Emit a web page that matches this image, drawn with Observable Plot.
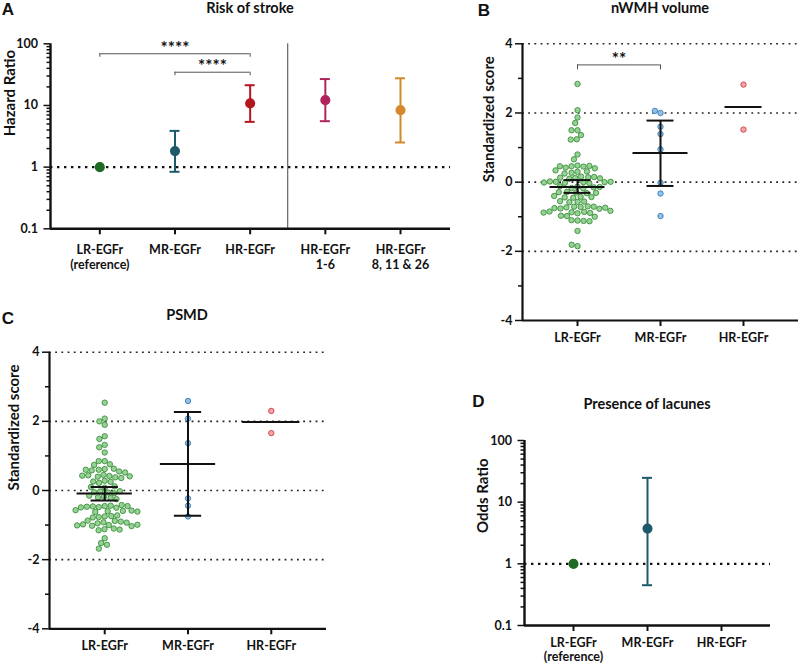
<!DOCTYPE html>
<html><head><meta charset="utf-8">
<script src="https://cdn.jsdelivr.net/npm/d3@7"></script>
<script src="https://cdn.jsdelivr.net/npm/@observablehq/plot@0.6"></script>
<style>
body{margin:0;background:#fff;}
#fig{position:relative;width:800px;height:666px;overflow:hidden;background:#fff;}
.lbl{position:absolute;transform:translate(-50%,-50%);white-space:nowrap;font-weight:bold;color:#111;line-height:1.2;}
.letter{font-family:"Liberation Sans",Arial,sans-serif;font-size:17px;}
.title{font-family:Lato,"Open Sans",sans-serif;font-size:14.5px;}
</style></head><body><div id="fig"></div>
<script>
// ---------------- DATA ----------------
// Panel A – Risk of stroke (hazard ratios, 95% CI)
const strokeCats = ["LR-EGFr\n(reference)", "MR-EGFr", "HR-EGFr", "HR-EGFr\n1-6", "HR-EGFr\n8, 11 & 26"];
const strokeHR = [1, 1.82, 10.8, 12.2, 8.4];
const strokeLo = [null, 0.84, 5.42, 5.56, 2.51];
const strokeHi = [null, 3.87, 21.3, 26.8, 27.6];
const strokeColors = ["#1d6b22", "#1d5a6c", "#b3161c", "#b0245c", "#d3882c"];
const strokeSigFrom = [0, 1];
const strokeSigTo = [2, 2];
const strokeSigY = [68.9, 34.6];
const strokeSigText = ["****", "****"];

// Panel B – nWMH volume (standardized scores)
const groups = ["LR-EGFr", "MR-EGFr", "HR-EGFr"];
const nwmhLR = [2.84, 2.08, 1.87, 1.71, 1.50, 1.50, 1.36, 1.24, 1.23, 0.80, 0.66,
  0.48, 0.46, 0.45, 0.47, 0.42, 0.40, 0.46,
  0.34, 0.30, 0.27, 0.31, 0.25,
  0.16, 0.14, 0.12, 0.10, 0.15, 0.13, 0.11,
  0.00, -0.02, 0.01, -0.03, 0.00, 0.02, 0.01, -0.01,
  -0.13, -0.17, -0.15, -0.18, -0.12, -0.14,
  -0.30, -0.28, -0.32, -0.29, -0.31,
  -0.42, -0.45, -0.40, -0.44, -0.43,
  -0.57, -0.56, -0.58, -0.55,
  -0.71, -0.70, -0.72, -0.73, -0.71, -0.76, -0.77, -0.75, -0.74,
  -0.90, -0.87, -0.86, -0.89, -0.85, -0.83, -0.88,
  -0.98, -0.97, -1.00,
  -1.11, -1.10, -1.12, -1.13,
  -1.41, -1.85, -1.81];
const nwmhMR = [2.00, 2.06, 1.60, 1.39, 0.95, -0.02, -0.33, -0.98];
const nwmhHR = [2.82, 1.52];
const nwmhMean = [-0.14, 0.84, 2.17];
const nwmhLo = [-0.31, -0.11, null];
const nwmhHi = [0.06, 1.78, null];
const nwmhSigFrom = [0];
const nwmhSigTo = [1];
const nwmhSigY = [3.39];
const nwmhSigText = ["**"];

// Panel C – PSMD (standardized scores)
const psmdLR = [2.54, 2.08, 2.00, 1.90, 1.57, 1.49, 1.32, 1.25, 1.10, 0.85, 0.85, 0.76, 0.74,
  0.62, 0.60, 0.63, 0.58, 0.55, 0.60, 0.52,
  0.45, 0.42, 0.40, 0.44, 0.38, 0.43, 0.41, 0.36,
  0.28, 0.25, 0.22, 0.26,
  0.12, 0.08, 0.10,
  -0.03, -0.06, -0.05, -0.08, -0.02,
  -0.18, -0.22, -0.20, -0.25, -0.15,
  -0.45, -0.48, -0.44, -0.46, -0.50, -0.42, -0.47, -0.45, -0.49,
  -0.58, -0.60, -0.62, -0.57, -0.59, -0.61,
  -0.75, -0.77, -0.74, -0.78, -0.72,
  -0.88, -0.92, -0.90, -0.95, -0.87, -0.93,
  -1.00, -1.02, -0.98, -1.03, -1.01, -0.99,
  -1.12, -1.15, -1.10, -1.13,
  -1.38, -1.52, -1.57, -1.68];
const psmdMR = [2.59, 2.08, 1.37, -0.23, -0.44, -0.75];
const psmdHR = [2.30, 1.66];
const psmdMean = [-0.09, 0.77, 1.98];
const psmdLo = [-0.29, -0.73, null];
const psmdHi = [0.10, 2.27, null];

// Panel D – Presence of lacunes (odds ratios, 95% CI)
const lacCats = ["LR-EGFr\n(reference)", "MR-EGFr", "HR-EGFr"];
const lacOR = [1, 3.73, null];
const lacLo = [null, 0.45, null];
const lacHi = [null, 24.8, null];
const lacColors = ["#1d6b22", "#1d5a6c", "#b3161c"];

// tick labels
const logMajor = [0.1, 1, 10, 100];
const logMinor = [-1, 0, 1].flatMap(e => [2, 3, 4, 5, 6, 7, 8, 9].map(m => m * Math.pow(10, e)));
const zMajor = [-4, -2, 0, 2, 4];
const zMinor = [-3, -1, 1, 3];
const zGrid = [-2, 0, 2, 4];

const groupFill = ["#93d493", "#8fc3ea", "#f4a5a8"];
const groupStroke = ["#3f8c3f", "#3b78b0", "#cf3b41"];

// ---------------- DRAWING ----------------
const fig = document.getElementById("fig");
const FONT = "Lato, 'Open Sans', sans-serif";
const svgStyle = `font-family:${FONT};font-size:12.5px;font-weight:bold;color:#111;background:transparent;overflow:visible;max-width:none;`;
const INK = "#111";

function place(el, left, top) {
  el.style.position = "absolute";
  el.style.left = left + "px";
  el.style.top = top + "px";
  fig.appendChild(el);
}
function htmlLabel(text, cls, x, y) {
  const d = document.createElement("div");
  d.className = "lbl " + cls;
  d.textContent = text;
  d.style.left = x + "px";
  d.style.top = y + "px";
  fig.appendChild(d);
}
function sigRows(from, to, y, text) {
  return (from || []).map((f, k) => ({from: f, to: to[k], level: y[k], label: text[k], mid: (f + to[k]) / 2}));
}
function sigMarks(sig, drop) {
  return [
    Plot.ruleY(sig, {x1: "from", x2: "to", y: "level", stroke: "#555", strokeWidth: 1}),
    Plot.ruleX(sig, {x: "from", y1: "level", y2: "level", insetTop: drop, stroke: "#555", strokeWidth: 1}),
    Plot.ruleX(sig, {x: "to", y1: "level", y2: "level", insetTop: drop, stroke: "#555", strokeWidth: 1}),
    Plot.text(sig, {x: "mid", y: "level", text: "label", dy: -5.5, fontSize: 17})
  ];
}

function forestPanel(o) {
  const rows = o.cats.map((c, i) => ({i, label: c, est: o.est[i], lo: o.lo[i], hi: o.hi[i], color: o.colors[i]}));
  const ci = rows.filter(d => d.lo != null && d.hi != null);
  const pts = rows.filter(d => d.est != null);
  const sig = sigRows(o.sigFrom, o.sigTo, o.sigY, o.sigText);
  return Plot.plot({
    width: o.width, height: o.height,
    marginLeft: o.mL, marginRight: o.mR, marginTop: o.mT, marginBottom: o.mB,
    style: svgStyle,
    x: {type: "linear", domain: o.xDomain, axis: null},
    y: {type: "log", domain: [0.1, 100], axis: null},
    color: {type: "identity"},
    marks: [
      Plot.ruleY([1], {stroke: INK, strokeWidth: 2.2, strokeDasharray: "2.4,4.6"}),
      o.divider != null ? Plot.ruleX([o.divider], {stroke: "#444", strokeWidth: 1}) : null,
      Plot.ruleX(ci, {x: "i", y1: "lo", y2: "hi", stroke: "color", strokeWidth: 2}),
      Plot.ruleY(ci, {x1: "i", x2: "i", y: "lo", stroke: "color", strokeWidth: 2, insetLeft: -5, insetRight: -5}),
      Plot.ruleY(ci, {x1: "i", x2: "i", y: "hi", stroke: "color", strokeWidth: 2, insetLeft: -5, insetRight: -5}),
      Plot.dot(pts, {x: "i", y: "est", r: 4.3, fill: "color", stroke: "color"}),
      ...sigMarks(sig, 3.5),
      Plot.axisY({ticks: logMinor, tickSize: 3.5, tickFormat: () => "", strokeWidth: 1.5, label: null}),
      Plot.axisY({ticks: logMajor, tickSize: 6.5, tickPadding: o.tickPad, tickFormat: d => String(d), strokeWidth: 1.5, label: null}),
      Plot.ruleX([o.xDomain[0]], {stroke: INK, strokeWidth: 2.4}),
      Plot.ruleY([0.1], {stroke: INK, strokeWidth: 2.4}),
      Plot.axisX({ticks: d3.range(o.cats.length), tickSize: 6, tickFormat: () => "", strokeWidth: 2, label: null}),
      Plot.text(rows, {x: "i", text: "label", frameAnchor: "bottom", lineAnchor: "top", dy: o.labelDy, lineHeight: o.lineHeight}),
      Plot.text([o.yLabel], {frameAnchor: "left", rotate: -90, dx: o.yLabelDx, fontSize: 15})
    ]
  });
}

function swarmPanel(o) {
  const po = -o.xDomain[0] - 0.5;
  const points = groups.flatMap((g, gi) => o.values[gi].map(v => ({group: g, value: v, fill: groupFill[gi], stroke: groupStroke[gi]})));
  const stats = groups.map((g, gi) => ({group: g, i: gi, mean: o.mean[gi], lo: o.lo[gi], hi: o.hi[gi]}));
  const ci = stats.filter(d => d.lo != null && d.hi != null);
  const sig = sigRows(o.sigFrom, o.sigTo, o.sigY, o.sigText);
  const dims = {width: o.width, height: o.height, marginLeft: o.mL, marginRight: o.mR, marginTop: o.mT, marginBottom: o.mB, style: svgStyle};
  const base = Plot.plot({
    ...dims,
    x: {type: "linear", domain: o.xDomain, axis: null},
    y: {domain: [-4, 4], axis: null},
    marks: [
      Plot.ruleY(zGrid, {stroke: "#222", strokeWidth: 1.6, strokeDasharray: "1.8,4.4"}),
      ...sigMarks(sig, 5),
      Plot.axisY({ticks: zMinor, tickSize: 4, tickFormat: () => "", strokeWidth: 1.5, label: null}),
      Plot.axisY({ticks: zMajor, tickSize: 7, tickPadding: 3, tickFormat: d => String(d), strokeWidth: 1.5, label: null}),
      Plot.ruleX([o.xDomain[0]], {stroke: INK, strokeWidth: 2.2}),
      Plot.ruleY([-4], {stroke: INK, strokeWidth: 2.2}),
      Plot.axisX({ticks: d3.range(groups.length), tickSize: 6, tickFormat: () => "", strokeWidth: 2, label: null}),
      Plot.text(stats, {x: "i", text: "group", frameAnchor: "bottom", lineAnchor: "top", dy: o.labelDy}),
      Plot.text([o.yLabel], {frameAnchor: "left", rotate: -90, dx: o.yLabelDx, fontSize: 15})
    ]
  });
  const overlay = Plot.plot({
    ...dims,
    fx: {domain: groups, paddingInner: 0, paddingOuter: po, round: false, axis: null},
    y: {domain: [-4, 4], axis: null},
    color: {type: "identity"},
    marks: [
      Plot.dot(points, Plot.dodgeX({anchor: "middle", padding: 0.6}, {fx: "group", y: "value", r: 2.7, fill: "fill", stroke: "stroke", strokeWidth: 0.9})),
      ...stats.map(d => Plot.tickY([d], {fx: "group", y: "mean", insetLeft: o.meanInset[d.i], insetRight: o.meanInset[d.i], stroke: INK, strokeWidth: 2})),
      Plot.tickY(ci, {fx: "group", y: "lo", insetLeft: 28, insetRight: 28, stroke: INK, strokeWidth: 2}),
      Plot.tickY(ci, {fx: "group", y: "hi", insetLeft: 28, insetRight: 28, stroke: INK, strokeWidth: 2}),
      Plot.ruleX(ci, {fx: "group", x: null, y1: "lo", y2: "hi", stroke: INK, strokeWidth: 2})
    ]
  });
  return [base, overlay];
}

// Panel A
place(forestPanel({
  cats: strokeCats, est: strokeHR, lo: strokeLo, hi: strokeHi, colors: strokeColors,
  sigFrom: strokeSigFrom, sigTo: strokeSigTo, sigY: strokeSigY, sigText: strokeSigText,
  width: 460, height: 290, mL: 50, mR: 10, mT: 43.3, mB: 61.7,
  xDomain: [-0.656, 4.665], divider: 2.5, tickPad: 6, labelDy: 15, lineHeight: 1.2,
  yLabel: "Hazard Ratio", yLabelDx: -40.5
}), 0, 0);

// Panel B
const [bBase, bTop] = swarmPanel({
  values: [nwmhLR, nwmhMR, nwmhHR], mean: nwmhMean, lo: nwmhLo, hi: nwmhHi,
  sigFrom: nwmhSigFrom, sigTo: nwmhSigTo, sigY: nwmhSigY, sigText: nwmhSigText,
  width: 340, height: 350, mL: 62, mR: 2, mT: 43.3, mB: 30,
  xDomain: [-0.663, 2.663], meanInset: [14, 14, 23], labelDy: 12.5,
  yLabel: "Standardized score", yLabelDx: -33
});
place(bBase, 460, 0); place(bTop, 460, 0);

// Panel C
const [cBase, cTop] = swarmPanel({
  values: [psmdLR, psmdMR, psmdHR], mean: psmdMean, lo: psmdLo, hi: psmdHi,
  width: 340, height: 366, mL: 49, mR: 14, mT: 51.7, mB: 37.7,
  xDomain: [-0.663, 2.663], meanInset: [14, 14, 13], labelDy: 12.5,
  yLabel: "Standardized score", yLabelDx: -35
});
place(cBase, 0, 300); place(cTop, 0, 300);

// Panel D
place(forestPanel({
  cats: lacCats, est: lacOR, lo: lacLo, hi: lacHi, colors: lacColors,
  width: 340, height: 286, mL: 64, mR: 30, mT: 62, mB: 39,
  xDomain: [-0.662, 2.662], divider: null, tickPad: 6, labelDy: 11.5, lineHeight: 1.1,
  yLabel: "Odds Ratio", yLabelDx: -41
}), 460, 378);

// Titles and panel letters
htmlLabel("A", "letter", 8, 10);
htmlLabel("Risk of stroke", "title", 250, 8);
htmlLabel("B", "letter", 484, 11);
htmlLabel("nWMH volume", "title", 660, 8);
htmlLabel("C", "letter", 8, 319);
htmlLabel("PSMD", "title", 187, 315);
htmlLabel("D", "letter", 478.5, 402);
htmlLabel("Presence of lacunes", "title", 647, 404);
</script></body></html>
